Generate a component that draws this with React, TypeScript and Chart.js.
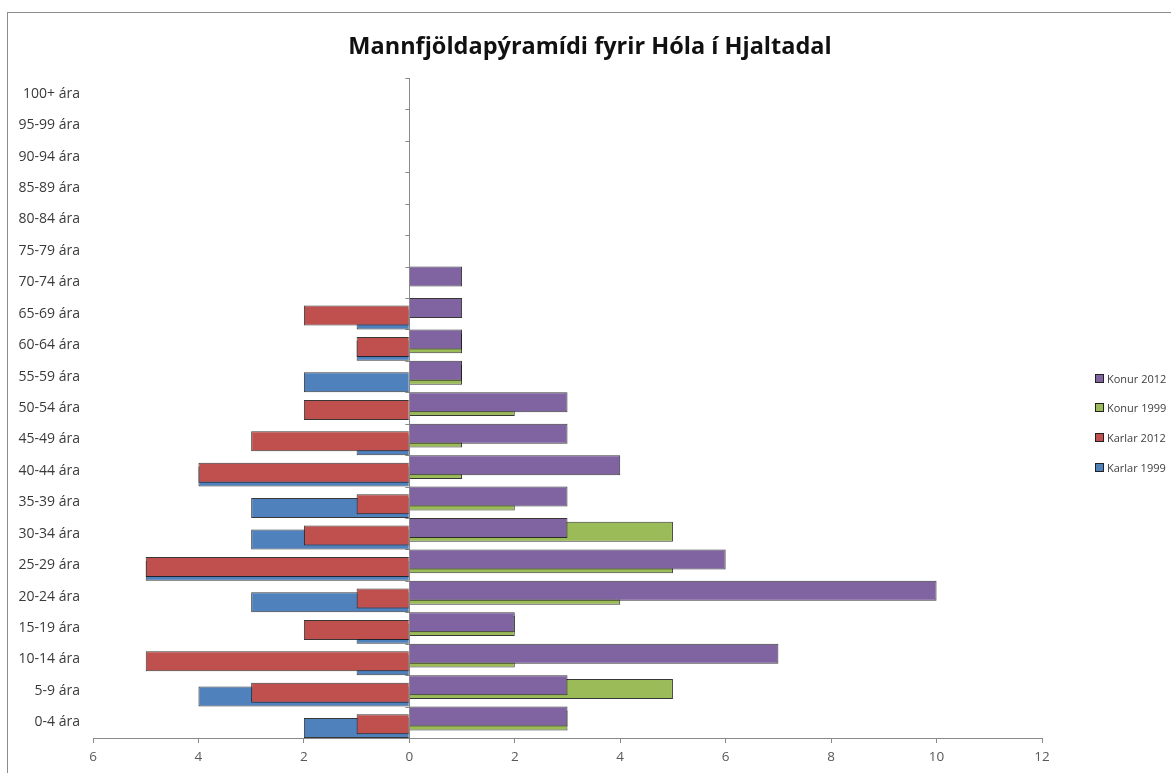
import React, { useEffect, useRef } from "react";
import { Chart, registerables } from "chart.js";

Chart.register(...registerables);

// Age groups, from youngest (bottom) to oldest (top)
const ageGroups = [
  "0-4 ára", "5-9 ára", "10-14 ára", "15-19 ára", "20-24 ára", "25-29 ára",
  "30-34 ára", "35-39 ára", "40-44 ára", "45-49 ára", "50-54 ára", "55-59 ára",
  "60-64 ára", "65-69 ára", "70-74 ára", "75-79 ára", "80-84 ára", "85-89 ára",
  "90-94 ára", "95-99 ára", "100+ ára",
];

const karlar1999 = [-2, -4, -1, -1, -3, -5, -3, -3, -4, -1, 0, -2, -1, -1, 0, 0, 0, 0, 0, 0, 0];
const karlar2012 = [-1, -3, -5, -2, -1, -5, -2, -1, -4, -3, -2, 0, -1, -2, 0, 0, 0, 0, 0, 0, 0];
const konur1999 = [3, 5, 2, 2, 4, 5, 5, 2, 1, 1, 2, 1, 1, 0, 0, 0, 0, 0, 0, 0, 0];
const konur2012 = [3, 3, 7, 2, 10, 6, 3, 3, 4, 3, 3, 1, 1, 1, 1, 0, 0, 0, 0, 0, 0];

const seriesNames = ["Konur 2012", "Konur 1999", "Karlar 2012", "Karlar 1999"];
const seriesColors = ["#8064A2", "#9BBB59", "#C0504D", "#4F81BD"];
const seriesValues = [konur2012, konur1999, karlar2012, karlar1999];

const xMin = -6;
const xMax = 12;
const xStep = 2;

const titleText = "Mannfjöldapýramídi fyrir Hóla í Hjaltadal";

const CANVAS_W = 1163;
const CANVAS_H = 760;

// Small tick marks on the vertical axis drawn at x = 0 (category boundaries)
const zeroAxisTicks = {
  id: "zeroAxisTicks",
  beforeDatasetsDraw(chart: any) {
    const { ctx, scales } = chart;
    const x0 = scales.x.getPixelForValue(0);
    const y = scales.y;
    const n = y.ticks.length;
    ctx.save();
    ctx.strokeStyle = "#8a8a8a";
    ctx.lineWidth = 1;
    ctx.beginPath();
    for (let i = 0; i <= n; i++) {
      const py = Math.round(y.getPixelForValue(i - 0.5)) + 0.5;
      ctx.moveTo(x0 - 4, py);
      ctx.lineTo(x0, py);
    }
    ctx.stroke();
    ctx.restore();
  },
};

export default function App() {
  const canvasRef = useRef<HTMLCanvasElement | null>(null);

  useEffect(() => {
    const canvas = canvasRef.current;
    if (!canvas) return;
    const labels = ageGroups.slice().reverse();
    const chart = new Chart(canvas, {
      type: "bar",
      data: {
        labels,
        datasets: seriesValues.map((vals, i) => ({
          label: seriesNames[i],
          data: vals.slice().reverse(),
          backgroundColor: seriesColors[i],
          borderColor: "rgba(20,20,20,0.85)",
          borderWidth: (ctx: any) => (ctx.raw === 0 ? 0 : 1),
          barPercentage: 5.26,
          categoryPercentage: 0.484,
        })),
      },
      plugins: [zeroAxisTicks],
      options: {
        indexAxis: "y",
        responsive: false,
        animation: false,
        events: [],
        layout: { padding: { left: 0, right: 129, top: 65, bottom: 0 } },
        plugins: {
          legend: { display: false },
          tooltip: { enabled: false },
          title: { display: false },
        },
        scales: {
          x: {
            type: "linear",
            min: xMin,
            max: xMax,
            afterFit: (scale: any) => {
              scale.height = 35;
            },
            ticks: {
              stepSize: xStep,
              color: "#595959",
              font: { family: "Open Sans", size: 13.5 },
              padding: 6,
              callback: (v: any) => String(Math.abs(Number(v))),
            },
            grid: {
              drawOnChartArea: true,
              color: (ctx: any) => (ctx.tick && ctx.tick.value === 0 ? "#8a8a8a" : "rgba(0,0,0,0)"),
              tickColor: "#8a8a8a",
              tickLength: 5,
            },
            border: { display: true, color: "#8a8a8a" },
          },
          y: {
            type: "category",
            afterFit: (scale: any) => {
              scale.width = 85;
            },
            ticks: {
              color: "#3a3a3a",
              font: { family: "Open Sans", size: 14 },
              padding: 13,
              autoSkip: false,
            },
            grid: { display: false, drawTicks: false },
            border: { display: false },
          },
        },
      },
    } as any);
    return () => chart.destroy();
  }, []);

  return (
    <div
      style={{
        position: "fixed",
        left: 7,
        top: 12,
        width: 1170,
        height: 770,
        border: "1px solid #8c8c8c",
        background: "#fff",
        boxSizing: "border-box",
      }}
    >
      <canvas
        ref={canvasRef}
        width={CANVAS_W}
        height={CANVAS_H}
        style={{ position: "absolute", left: 0, top: 0, width: CANVAS_W, height: CANVAS_H }}
      />
      <div
        style={{
          position: "absolute",
          left: 582 - 300,
          top: 17,
          width: 600,
          textAlign: "center",
          fontFamily: "Open Sans",
          fontWeight: 700,
          fontSize: 23.5,
          lineHeight: "30px",
          color: "#111",
          whiteSpace: "nowrap",
        }}
      >
        {titleText}
      </div>
      {seriesNames.map((name, i) => (
        <div
          key={name}
          style={{
            position: "absolute",
            left: 1087,
            top: 355 + i * 29.7,
            height: 20,
            display: "flex",
            alignItems: "center",
            fontFamily: "Open Sans",
            fontSize: 11,
            color: "#404040",
            whiteSpace: "nowrap",
          }}
        >
          <span
            style={{
              display: "inline-block",
              width: 7,
              height: 7,
              background: seriesColors[i],
              border: "1px solid #222",
              marginRight: 3,
            }}
          />
          {name}
        </div>
      ))}
    </div>
  );
}
